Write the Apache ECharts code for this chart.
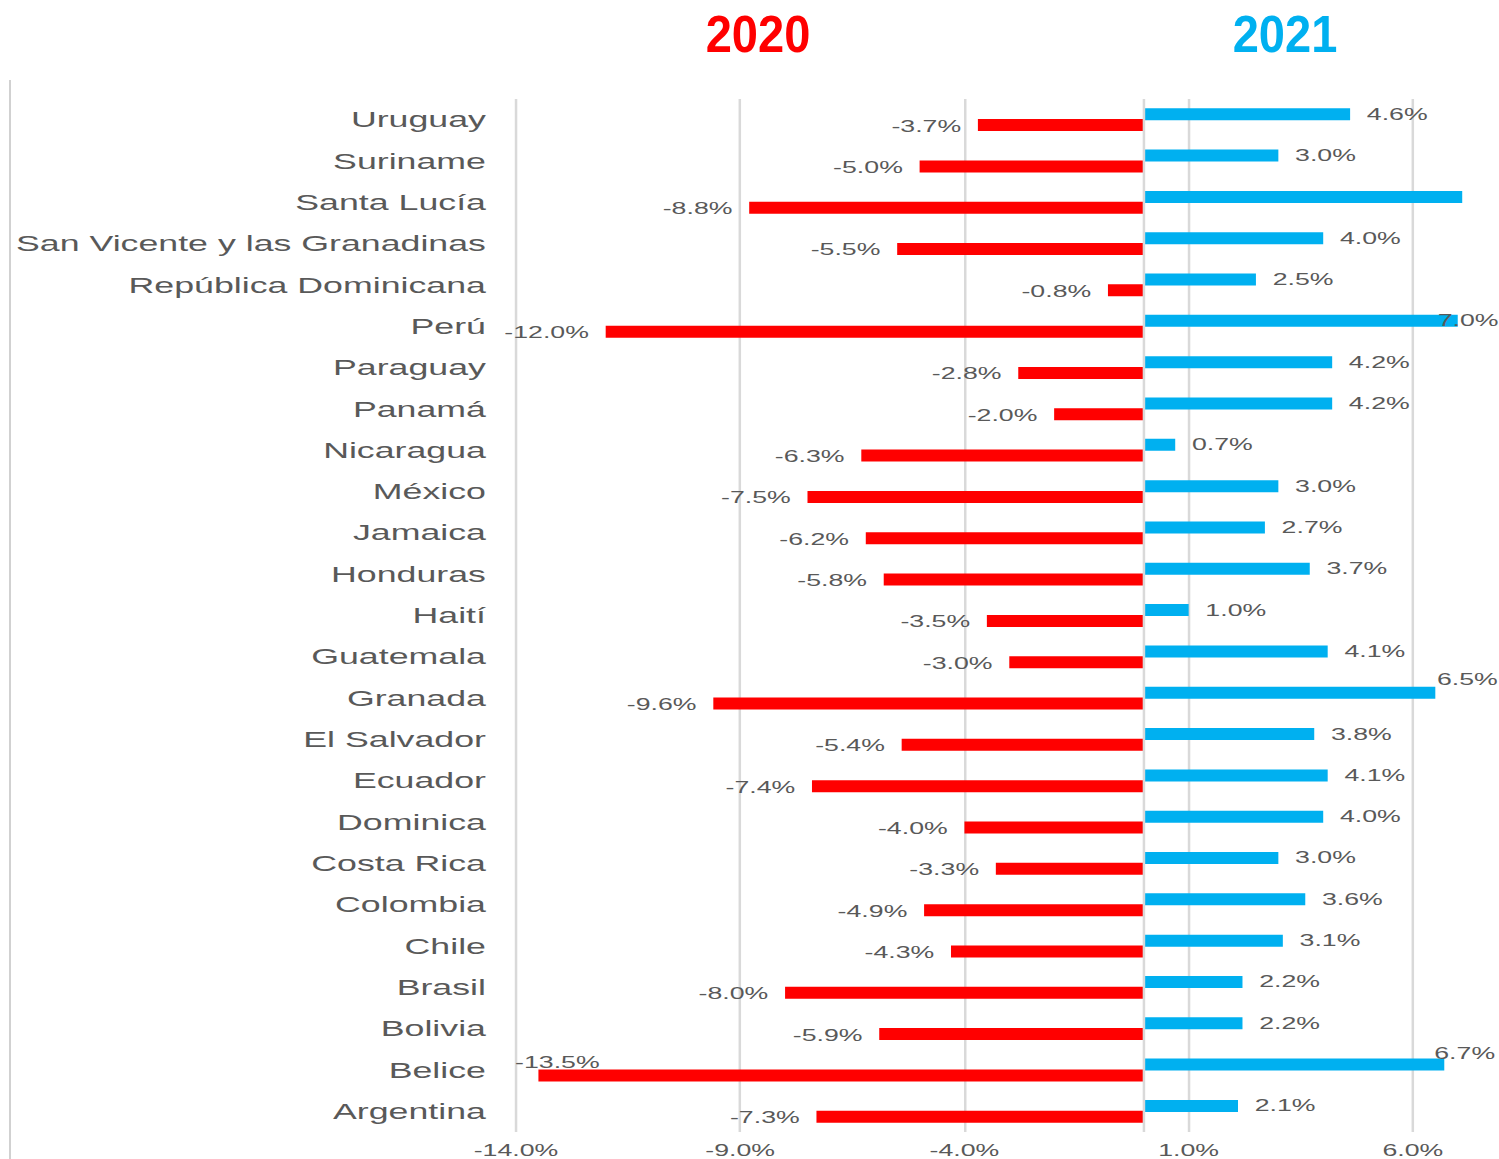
<!DOCTYPE html>
<html>
<head>
<meta charset="utf-8">
<script src="https://cdn.jsdelivr.net/npm/echarts@6/dist/echarts.min.js"></script>
<style>
    html, body { margin: 0; padding: 0; background: #fff; overflow: hidden; }
    #wrap { width: 1499px; height: 1159px; overflow: hidden; }
    #chart { height: 1159px; transform-origin: 0 0; }
</style>
</head>
<body>
<div id="wrap"><div id="chart"></div></div>
<script>
// the axis text in the picture is stretched sideways, so the chart is drawn narrow and stretched
var S = 1.67;

var paises = ['Argentina', 'Belice', 'Bolivia', 'Brasil', 'Chile', 'Colombia', 'Costa Rica',
    'Dominica', 'Ecuador', 'El Salvador', 'Granada', 'Guatemala', 'Haití', 'Honduras', 'Jamaica',
    'México', 'Nicaragua', 'Panamá', 'Paraguay', 'Perú', 'República Dominicana',
    'San Vicente y las Granadinas', 'Santa Lucía', 'Suriname', 'Uruguay'];

var v2020 = [-7.3, -13.5, -5.9, -8.0, -4.3, -4.9, -3.3, -4.0, -7.4, -5.4, -9.6, -3.0, -3.5, -5.8,
    -6.2, -7.5, -6.3, -2.0, -2.8, -12.0, -0.8, -5.5, -8.8, -5.0, -3.7];

var v2021 = [2.1, 6.7, 2.2, 2.2, 3.1, 3.6, 3.0, 4.0, 4.1, 3.8, 6.5, 4.1, 1.0, 3.7, 2.7, 3.0, 0.7,
    4.2, 4.2, 7.0, 2.5, 4.0, 7.1, 3.0, 4.6];

var xMin = -14, xMax = 7.5, xStep = 5;

// labels that the original moved so they fit
var ajuste2020 = {
    'Belice': {position: 'insideLeft', offset: [-24, -13]}
};
var ajuste2021 = {
    'Perú': {offset: [-22, 0]},
    'Granada': {offset: [-9, -13]},
    'Belice': {offset: [-16, -11]},
    'Santa Lucía': {show: false}
};

function armar(valores, ajuste) {
    return valores.map(function (v, i) {
        var a = ajuste[paises[i]];
        if (a) {
            return {value: v, label: a};
        }
        return v;
    });
}

var w = 1499 / S;
var dom = document.getElementById('chart');
dom.style.width = w + 'px';
dom.style.transform = 'scaleX(' + S + ')';

var myChart = echarts.init(dom, null, {renderer: 'svg'});
var fuente = "'Liberation Sans', Arial, sans-serif";

var option = {
    backgroundColor: '#fff',
    animation: false,
    textStyle: {fontFamily: fuente},
    grid: {
        left: 516 / S,
        right: (1499 - 1479.5) / S,
        top: 99,
        bottom: 27
    },
    graphic: [
        {
            type: 'line',
            shape: {x1: 10 / S, y1: 80, x2: 10 / S, y2: 1159},
            style: {stroke: '#c8c8c8', lineWidth: 1}
        },
        {
            type: 'text', x: 758 / S, y: 34, scaleX: 0.905 / S,
            style: {
                text: '2020', fill: '#ff0000', fontSize: 52, fontWeight: 'bold',
                fontFamily: fuente, align: 'center', verticalAlign: 'middle'
            }
        },
        {
            type: 'text', x: 1285 / S, y: 34, scaleX: 0.905 / S,
            style: {
                text: '2021', fill: '#00b0f0', fontSize: 52, fontWeight: 'bold',
                fontFamily: fuente, align: 'center', verticalAlign: 'middle'
            }
        }
    ],
    xAxis: {
        type: 'value',
        min: xMin,
        max: xMax,
        interval: xStep,
        axisLine: {show: false},
        axisTick: {show: false},
        axisLabel: {
            color: '#595959',
            fontSize: 16,
            margin: 11,
            showMaxLabel: false,
            formatter: function (v) { return v.toFixed(1) + '%'; }
        },
        splitLine: {
            show: true,
            showMinLine: true,
            showMaxLine: false,
            lineStyle: {color: '#d9d9d9', width: 1.5}
        }
    },
    yAxis: {
        type: 'category',
        data: paises,
        axisLine: {show: false, onZero: false},
        axisTick: {show: false},
        axisLabel: {color: '#595959', fontSize: 21.4, margin: 18}
    },
    series: [
        {
            name: '2021',
            type: 'bar',
            data: armar(v2021, ajuste2021),
            barWidth: 12,
            barGap: '-10%',
            itemStyle: {color: '#00b0f0'},
            label: {
                show: true,
                position: 'right',
                distance: 10,
                color: '#595959',
                fontSize: 16,
                formatter: function (p) { return p.value.toFixed(1) + '%'; }
            }
        },
        {
            name: '2020',
            type: 'bar',
            data: armar(v2020, ajuste2020),
            barWidth: 12,
            itemStyle: {color: '#ff0000'},
            label: {
                show: true,
                position: 'left',
                distance: 10,
                offset: [0, 1],
                color: '#595959',
                fontSize: 16,
                formatter: function (p) { return p.value.toFixed(1) + '%'; }
            },
            markLine: {
                silent: true,
                symbol: 'none',
                label: {show: false},
                lineStyle: {color: '#d9d9d9', width: 1.5, type: 'solid'},
                data: [{xAxis: 0}]
            }
        }
    ]
};
myChart.setOption(option);
</script>
</body>
</html>
